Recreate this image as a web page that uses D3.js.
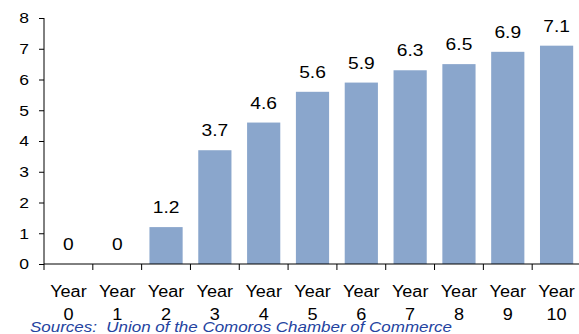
<!DOCTYPE html>
<html>
<head>
<meta charset="utf-8">
<script src="https://cdn.jsdelivr.net/npm/d3@7"></script>
<style>
html,body{margin:0;padding:0;background:#fff;}
svg{display:block;}
text{font-family:"Liberation Sans",Arial,sans-serif;fill:#000;}
</style>
</head>
<body>
<svg id="chart" width="579" height="334"></svg>
<script>
const yearNums = ["0","1","2","3","4","5","6","7","8","9","10"];
const values = [0, 0, 1.2, 3.7, 4.6, 5.6, 5.9, 6.3, 6.5, 6.9, 7.1];
const valueLabels = ["0","0","1.2","3.7","4.6","5.6","5.9","6.3","6.5","6.9","7.1"];
const yTicks = [0,1,2,3,4,5,6,7,8];
const sourceText = "Sources:  Union of the Comoros Chamber of Commerce";

const svg = d3.select("#chart");
const x0 = 44, x1 = 581, yTop = 18, yBot = 264;
const SX = 1.13;

const x = d3.scaleBand().domain(yearNums).range([x0, x1]).paddingInner(0.32).paddingOuter(0.16);
const y = d3.scaleLinear().domain([0, 8]).range([yBot, yTop]);
const step = x.step();

// bars
svg.append("g").selectAll("rect").data(values).join("rect")
  .attr("x", (d,i) => x(yearNums[i]))
  .attr("width", x.bandwidth())
  .attr("y", d => y(d))
  .attr("height", d => yBot - y(d))
  .attr("fill", "#8aa6cc");

// value labels
svg.append("g").selectAll("text").data(values).join("text")
  .attr("transform", (d,i) => `translate(${x(yearNums[i]) + x.bandwidth()/2},${y(d) - 14}) scale(${SX},1)`)
  .attr("text-anchor", "middle")
  .style("font-size", "17px")
  .text((d,i) => valueLabels[i]);

// y axis
const yAxis = d3.axisLeft(y).tickValues(yTicks).tickSize(5).tickPadding(10).tickFormat(d3.format("d"));
const gy = svg.append("g").attr("transform", `translate(${x0},0)`).call(yAxis);
gy.select(".domain").attr("stroke", "#000").attr("d", `M0,${yTop}V${yBot}`);
gy.selectAll(".tick line").attr("stroke", "#000");
gy.selectAll(".tick text").style("font-size", "15.5px").attr("font-family", null)
  .attr("transform", `translate(-15,0) scale(${SX},1)`).attr("x", 0);

// x axis
svg.append("line").attr("x1", x0).attr("x2", 579).attr("y1", yBot).attr("y2", yBot).attr("stroke", "#000");
svg.append("g").selectAll("line").data(yearNums).join("line")
  .attr("x1", d => x(d) - (step - x.bandwidth())/2)
  .attr("x2", d => x(d) - (step - x.bandwidth())/2)
  .attr("y1", yBot).attr("y2", yBot + 6)
  .attr("stroke", "#000");

const xl = svg.append("g").selectAll("g").data(yearNums).join("g")
  .attr("transform", d => `translate(${x(d) + x.bandwidth()/2},0) scale(${SX},1)`);
xl.append("text").attr("y", 297.5).attr("text-anchor", "middle").style("font-size", "16px").text("Year");
xl.append("text").attr("y", 320.5).attr("text-anchor", "middle").style("font-size", "16px").text(d => d);

// source
svg.append("text").attr("x", 30).attr("y", 332)
  .style("font-size", "14px").style("font-style", "italic").style("fill", "#2443a0")
  .attr("xml:space", "preserve")
  .attr("textLength", 422).attr("lengthAdjust", "spacingAndGlyphs")
  .text(sourceText);
</script>
</body>
</html>
